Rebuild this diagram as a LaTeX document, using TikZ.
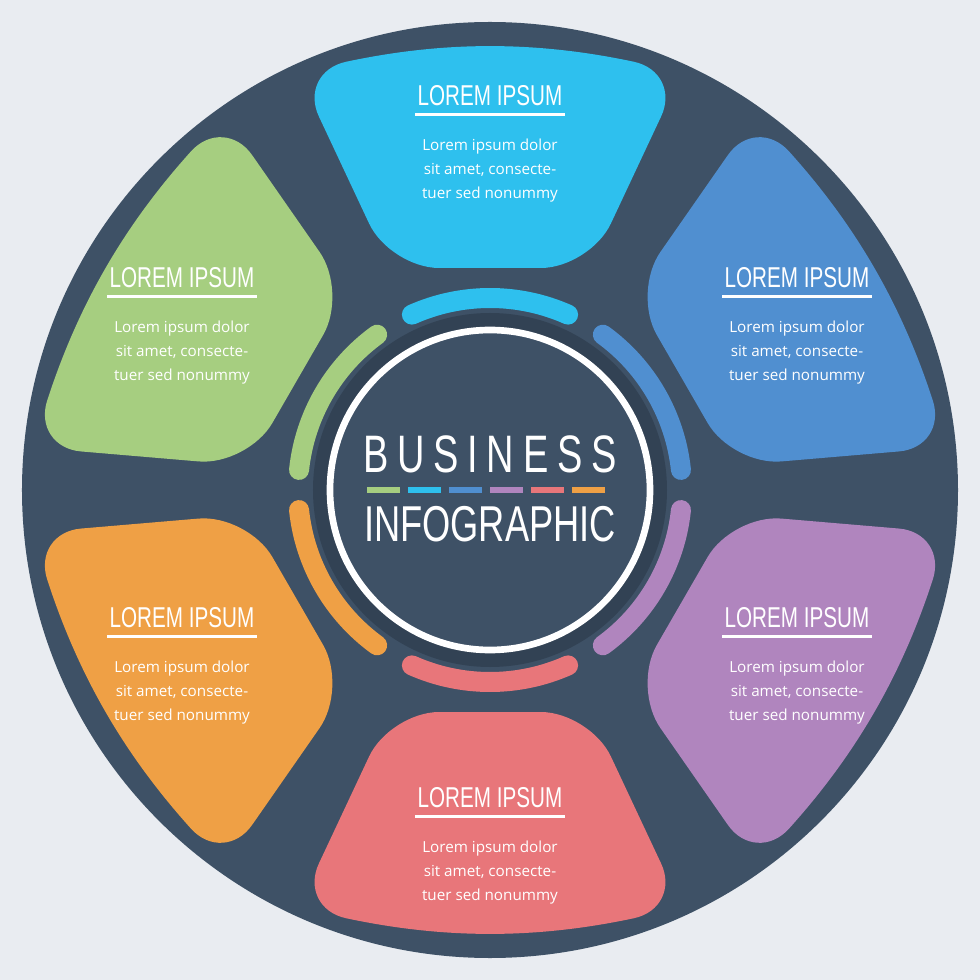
\documentclass[tikz,border=0pt]{standalone}
\usepackage{fontspec}
\setmainfont{Open Sans}
\newfontfamily\titlefont[FakeStretch=0.72]{Liberation Sans}
\usetikzlibrary{positioning,calc}
\definecolor{bgcolor}{RGB}{233,236,241}
\definecolor{darkblue}{RGB}{62,81,102}
\definecolor{shadowblue}{RGB}{50,66,84}
\definecolor{petalcyan}{RGB}{46,192,238}
\definecolor{petalblue}{RGB}{80,143,208}
\definecolor{petalpurple}{RGB}{176,133,190}
\definecolor{petalred}{RGB}{232,118,122}
\definecolor{petalorange}{RGB}{239,160,69}
\definecolor{petalgreen}{RGB}{166,206,128}
\tikzstyle{title} = [text=white, font=\titlefont\fontsize{24.5}{24.5}\selectfont, inner sep=2pt]
\tikzstyle{body} = [text=white, font=\fontsize{13}{20.5}\selectfont, align=center, inner sep=0pt]
\tikzstyle{ring} = [line width=6mm, line cap=round]
\newcommand{\petal}[2]{%
  \begin{scope}[rotate=#1-90]
  \fill[#2, rounded corners=42] (-100,222) -- (100,222) -- (192,418) to[bend right=12] (-192,418) -- cycle;
  \end{scope}
  \draw[ring, #2] (#1-24:192) arc (#1-24:#1+24:192);
}
\newcommand{\petaltext}[3]{%
  \node[title] (#3) at (#1,#2) {LOREM IPSUM};
  \draw[white, line width=0.9mm] ($(#3.south)+(-75,-6)$) -- ($(#3.south)+(75,-6)$);
  \node[body, below=30 of #3] (#3body) {Lorem ipsum dolor\\sit amet, consecte-\\tuer sed nonummy};
}
\begin{document}
\begin{tikzpicture}[x=0.3mm, y=0.3mm, node distance=4mm]
\useasboundingbox[fill=bgcolor] (-490,-490) rectangle (490,490);

%% Big circle %%
\fill[darkblue] (0,0) circle (468);

%% Petals %%
\petal{90}{petalcyan}
\petal{30}{petalblue}
\petal{-30}{petalpurple}
\petal{-90}{petalred}
\petal{210}{petalorange}
\petal{150}{petalgreen}

%% Center %%
\fill[shadowblue] (0,0) circle (177);
\draw[white, line width=2mm, fill=darkblue] (0,0) circle (160);
\node[text=white, font=\titlefont\fontsize{45}{45}\selectfont, inner sep=0pt] (business) at (0,36) {B\,U\,S\,I\,N\,E\,S\,S};
\node[text=white, font=\titlefont\fontsize{43}{43}\selectfont, inner sep=0pt] (infographic) at (0,-34) {INFOGRAPHIC};
\foreach \c [count=\i] in {petalgreen,petalcyan,petalblue,petalpurple,petalred,petalorange}
  \draw[\c, line width=1.5mm] (-123+41*\i-41,0) -- ++(33,0);

%% Texts %%
\petaltext{0}{394}{topt}
\petaltext{307}{212}{rightupt}
\petaltext{-308}{212}{leftupt}
\petaltext{307}{-128}{rightdownt}
\petaltext{-308}{-128}{leftdownt}
\petaltext{0}{-308}{bottomt}
\end{tikzpicture}
\end{document}
